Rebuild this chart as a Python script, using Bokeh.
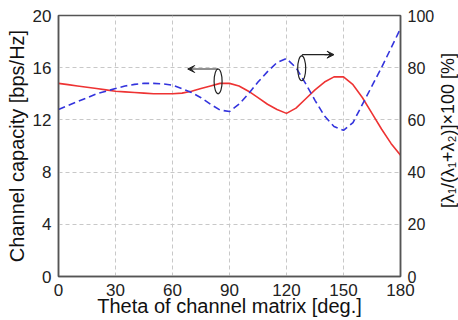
import math
from bokeh.plotting import figure
from bokeh.layouts import row
from bokeh.models import Range1d, LinearAxis, Arrow, VeeHead, FixedTicker
from bokeh.core.properties import value
from bokeh.embed import file_html
from bokeh.resources import INLINE

theta = [0, 5, 10, 15, 20, 25, 30, 35, 40, 45, 50, 55, 60, 65, 70, 75, 80, 85, 90,
         95, 100, 105, 110, 115, 120, 125, 130, 135, 140, 145, 150, 155, 160, 165, 170, 175, 180]
capacity = [14.8, 14.7, 14.6, 14.5, 14.4, 14.3, 14.2, 14.15, 14.1, 14.05, 14.0, 14.0, 14.0, 14.05,
            14.2, 14.4, 14.6, 14.8, 14.8, 14.6, 14.2, 13.7, 13.2, 12.8, 12.5, 12.9, 13.6, 14.3,
            14.9, 15.3, 15.3, 14.7, 13.7, 12.5, 11.3, 10.2, 9.3]
ratio = [64, 65.5, 67, 68.5, 70, 71, 72, 73, 73.6, 74, 74, 73.8, 73.3, 72, 70.5, 68.5, 66, 63.8, 63.2,
         66, 70, 74.5, 78.5, 82, 83.5, 80, 74, 67.5, 61.5, 57.5, 56, 59, 66, 73, 80, 87.5, 95]

x_ticks = [0, 30, 60, 90, 120, 150, 180]
left_ticks = [0, 4, 8, 12, 16, 20]
right_ticks = [0, 20, 40, 60, 80, 100]
right_title = "[λ₁/(λ₁+λ₂)]×100 [%]"

FONT = "Liberation Sans"
AX = "#555555"

p = figure(width=437, height=320, output_backend="svg", toolbar_location=None,
           x_range=Range1d(0, 180), y_range=Range1d(0, 20),
           min_border_left=58, min_border_right=36, min_border_top=15, min_border_bottom=44)
p.extra_y_ranges = {"pct": Range1d(0, 100)}
p.background_fill_color = "white"
p.border_fill_color = "white"
p.outline_line_color = AX
p.outline_line_width = 1.5

for g in p.grid:
    g.grid_line_color = "#c8c8c8"
    g.grid_line_dash = "4 3"
    g.grid_line_width = 1

p.xaxis.ticker = FixedTicker(ticks=x_ticks)

right = LinearAxis(y_range_name="pct", ticker=FixedTicker(ticks=right_ticks))
p.add_layout(right, "right")
p.yaxis[0].ticker = FixedTicker(ticks=left_ticks)

for ax in p.xaxis + p.yaxis:
    ax.axis_line_color = AX
    ax.axis_line_width = 1.5
    ax.major_tick_line_color = None
    ax.minor_tick_line_color = None
    ax.major_label_text_font = FONT
    ax.major_label_text_font_size = "17px"
    ax.major_label_text_color = "#222222"
    ax.axis_label_text_font = FONT
    ax.axis_label_text_font_size = "20px"
    ax.axis_label_text_font_style = "normal"
    ax.axis_label_text_color = "#111111"
    ax.major_label_standoff = 1
    ax.axis_label_standoff = 0

p.xaxis[0].axis_label = "Theta of channel matrix [deg.]"
p.xaxis[0].axis_label_standoff = -4
p.yaxis[0].axis_label = "Channel capacity [bps/Hz]"
p.yaxis[0].axis_label_standoff = 2
right.major_label_text_font_size = "16px"

p.line(theta, capacity, line_color="#ee3333", line_width=1.6)
p.line(theta, ratio, y_range_name="pct", line_color="#3333dd", line_width=1.6, line_dash="7 4")

# rotation indicators
p.ellipse(x=[84, 128], y=[14.95, 15.95], width=[4.2, 4.2], height=[1.9, 1.9],
          fill_color=None, line_color="#222222", line_width=1.2)
p.add_layout(Arrow(x_start=84, y_start=15.9, x_end=68, y_end=15.9,
                   line_color="#222222", line_width=1.2,
                   end=VeeHead(size=7, line_color="#222222", fill_color="#222222")))
p.line([128, 128.5, 144], [16.9, 17.0, 17.0], line_color="#222222", line_width=1.2)
p.add_layout(Arrow(x_start=140, y_start=17.0, x_end=145, y_end=17.0,
                   line_color="#222222", line_width=1.2,
                   end=VeeHead(size=7, line_color="#222222", fill_color="#222222")))

# right-hand axis title (separate narrow panel, reading bottom-to-top)
q = figure(width=21, height=320, output_backend="svg", toolbar_location=None,
           x_range=Range1d(0, 1), y_range=Range1d(0, 320),
           x_axis_type=None, y_axis_type=None,
           min_border=0, min_border_left=0, min_border_right=0,
           min_border_top=0, min_border_bottom=0)
q.outline_line_color = None
q.background_fill_color = "white"
q.border_fill_color = "white"
q.grid.visible = False
q.text(x=[0.5], y=[179], text=[right_title], angle=math.pi / 2,
       text_align="center", text_baseline="middle",
       text_font=value(FONT), text_font_size="18px", text_color="#111111")

layout = row(p, q, spacing=0)
open("out.html", "w").write(file_html(layout, INLINE))
